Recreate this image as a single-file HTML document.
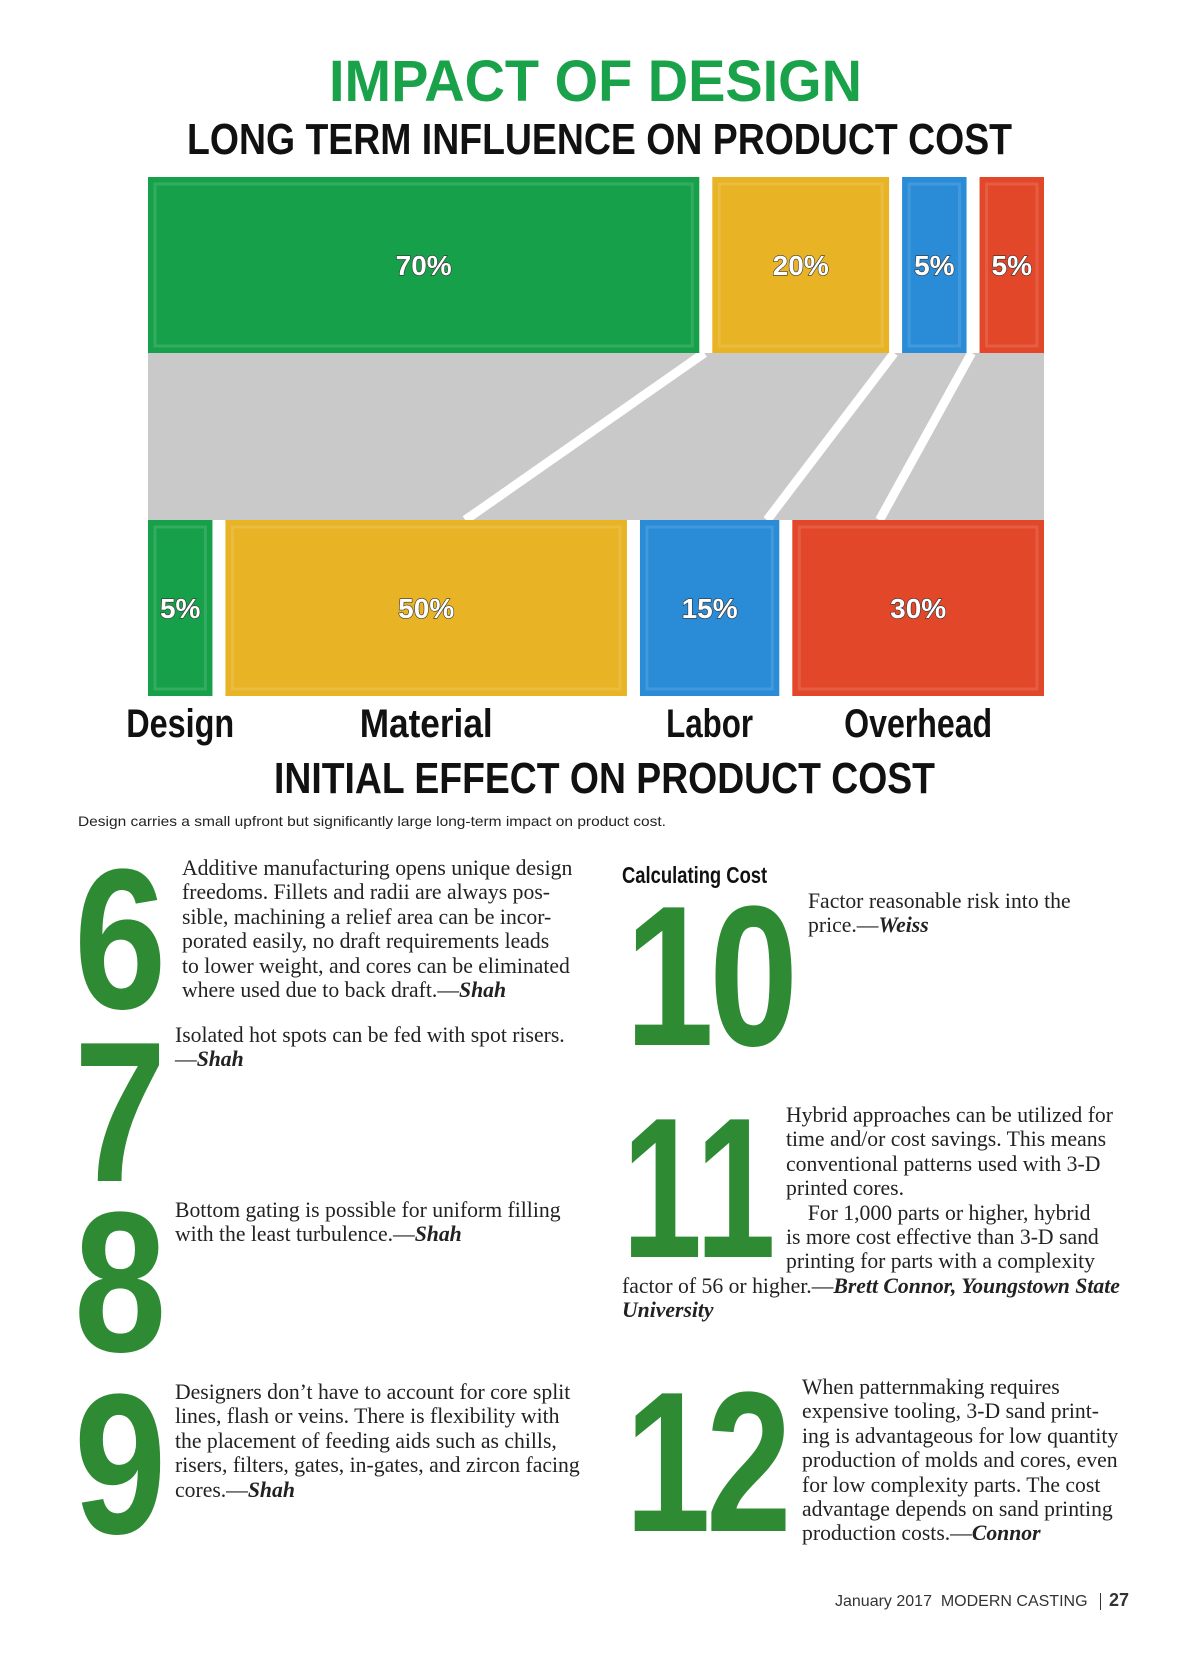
<!DOCTYPE html>
<html><head><meta charset="utf-8"><style>
body{margin:0;background:#fff;width:1200px;height:1657px;position:relative;overflow:hidden}
.p{position:absolute;font-family:"Liberation Serif",serif;font-size:21.7px;line-height:24.4px;color:#222;white-space:nowrap}
.p b{font-style:italic}
.n{position:absolute;font-family:"Liberation Sans Narrow","Liberation Sans",sans-serif;font-weight:bold;color:#2e8b34;font-size:200px;line-height:200px;transform-origin:0 0;letter-spacing:-6px}
</style></head><body>
<svg id="chart" width="1200" height="840" style="position:absolute;left:0;top:0" font-family="Liberation Sans, sans-serif">
<text x="329" y="101" font-size="58" font-weight="bold" fill="#1aa24a" textLength="533" lengthAdjust="spacingAndGlyphs">IMPACT OF DESIGN</text>
<text x="187" y="154" font-size="44" font-weight="bold" fill="#111" textLength="825" lengthAdjust="spacingAndGlyphs">LONG TERM INFLUENCE ON PRODUCT COST</text>
<rect x="148" y="353" width="896" height="167" fill="#c9c9c9"/>
<g id="lines"></g><g id="bars"></g>
<text x="274" y="793" font-size="44" font-weight="bold" fill="#111" textLength="661" lengthAdjust="spacingAndGlyphs">INITIAL EFFECT ON PRODUCT COST</text>
<text x="78" y="826" font-size="14" fill="#222" textLength="588" lengthAdjust="spacingAndGlyphs">Design carries a small upfront but significantly large long-term impact on product cost.</text>
</svg>
<script>
const categories=["Design","Material","Labor","Overhead"];
const longTermValues=[70,20,5,5];
const initialValues=[5,50,15,30];
const colors=["#17a04a","#e8b325","#2a8bd6","#e2472a"];
const labelWidths=[108,133,87,148];
const NS="http://www.w3.org/2000/svg";
const X0=148,X1=1044,GAP=13,BASE=27;
function layout(vals){const k=(X1-X0-GAP*(vals.length-1)-BASE*vals.length)/vals.reduce((a,b)=>a+b,0);let x=X0;return vals.map(v=>{const w=v*k+BASE;const r={x:x,w:w};x+=w+GAP;return r;});}
function mk(t,a){const e=document.createElementNS(NS,t);for(const k in a)e.setAttribute(k,a[k]);return e;}
const barsG=document.getElementById('bars'),linesG=document.getElementById('lines');
function row(vals,y,h,prefix,labels){
 const L=layout(vals);
 L.forEach((r,i)=>{
  const g=mk('rect',{x:r.x,y:y,width:r.w,height:h,fill:colors[i]});
  
  
  barsG.appendChild(g);
  const inner=mk('rect',{x:r.x+7,y:y+7,width:Math.max(r.w-14,1),height:h-14,fill:'none',stroke:'rgba(255,255,255,0.12)','stroke-width':3});
  
  
  barsG.appendChild(inner);
  const t=mk('text',{x:r.x+r.w/2,y:y+h/2+10,'text-anchor':'middle','font-size':28,'font-weight':'bold',fill:'#fff',stroke:'#333','stroke-width':1.2,'paint-order':'stroke'});
  t.textContent=vals[i]+'%';
  
  
  barsG.appendChild(t);
  if(labels){
   const c=mk('text',{x:r.x+r.w/2-labelWidths[i]/2,y:y+h+41,'font-size':40,'font-weight':'bold',fill:'#111',textLength:labelWidths[i],lengthAdjust:'spacingAndGlyphs'});
   c.textContent=categories[i];
   
   
   barsG.appendChild(c);
  }
 });
 return L;
}
const topRow=row(longTermValues,177,176,'long-term',false);
row(initialValues,520,176,'initial',true);
const slants=[239,127,92];
for(let i=1;i<topRow.length;i++){
 const x=topRow[i].x-8;
 const l=mk('line',{x1:x,y1:353,x2:x-slants[i-1],y2:520,stroke:'#fff','stroke-width':9});
 
 
 linesG.appendChild(l);
}
</script>

<div class="n" style="left:74px;top:840px;transform:scaleX(.83)">6</div>
<div class="n" style="left:74px;top:1013px;transform:scaleX(.83)">7</div>
<div class="n" style="left:74px;top:1183px;transform:scaleX(.83)">8</div>
<div class="n" style="left:74px;top:1365px;transform:scaleX(.83)">9</div>
<div class="n" style="left:625px;top:877px;transform:scaleX(.8)">10</div>
<div class="n" style="left:622px;top:1089px;transform:scaleX(.72);letter-spacing:2px">11</div>
<div class="n" style="left:625px;top:1363px;transform:scaleX(.77)">12</div>

<div class="p" style="left:182px;top:856px">Additive manufacturing opens unique design<br>freedoms. Fillets and radii are always pos-<br>sible, machining a relief area can be incor-<br>porated easily, no draft requirements leads<br>to lower weight, and cores can be eliminated<br>where used due to back draft.—<b>Shah</b></div>
<div class="p" style="left:175px;top:1023px">Isolated hot spots can be fed with spot risers.<br>—<b>Shah</b></div>
<div class="p" style="left:175px;top:1198px">Bottom gating is possible for uniform filling<br>with the least turbulence.—<b>Shah</b></div>
<div class="p" style="left:175px;top:1380px">Designers don’t have to account for core split<br>lines, flash or veins. There is flexibility with<br>the placement of feeding aids such as chills,<br>risers, filters, gates, in-gates, and zircon facing<br>cores.—<b>Shah</b></div>
<div style="position:absolute;left:622px;top:862px;font-family:'Liberation Sans',sans-serif;font-weight:bold;font-size:23px;color:#111;white-space:nowrap;transform:scaleX(.8);transform-origin:0 0">Calculating Cost</div>
<div class="p" style="left:808px;top:889px">Factor reasonable risk into the<br>price.—<b>Weiss</b></div>
<div class="p" style="left:786px;top:1103px">Hybrid approaches can be utilized for<br>time and/or cost savings. This means<br>conventional patterns used with 3-D<br>printed cores.<br>&nbsp;&nbsp;&nbsp;&nbsp;For 1,000 parts or higher, hybrid<br>is more cost effective than 3-D sand<br>printing for parts with a complexity</div>
<div class="p" style="left:622px;top:1274px">factor of 56 or higher.—<b>Brett Connor, Youngstown State<br>University</b></div>
<div class="p" style="left:802px;top:1375px">When patternmaking requires<br>expensive tooling, 3-D sand print-<br>ing is advantageous for low quantity<br>production of molds and cores, even<br>for low complexity parts. The cost<br>advantage depends on sand printing<br>production costs.—<b>Connor</b></div>
<div style="position:absolute;right:71px;top:1590px;font-family:'Liberation Sans',sans-serif;font-size:16px;color:#333;white-space:nowrap">January 2017&nbsp; MODERN CASTING <span style="border-left:1.5px solid #333;margin:0 8px;"></span> <b style="font-size:18px">27</b></div>
</body></html>
